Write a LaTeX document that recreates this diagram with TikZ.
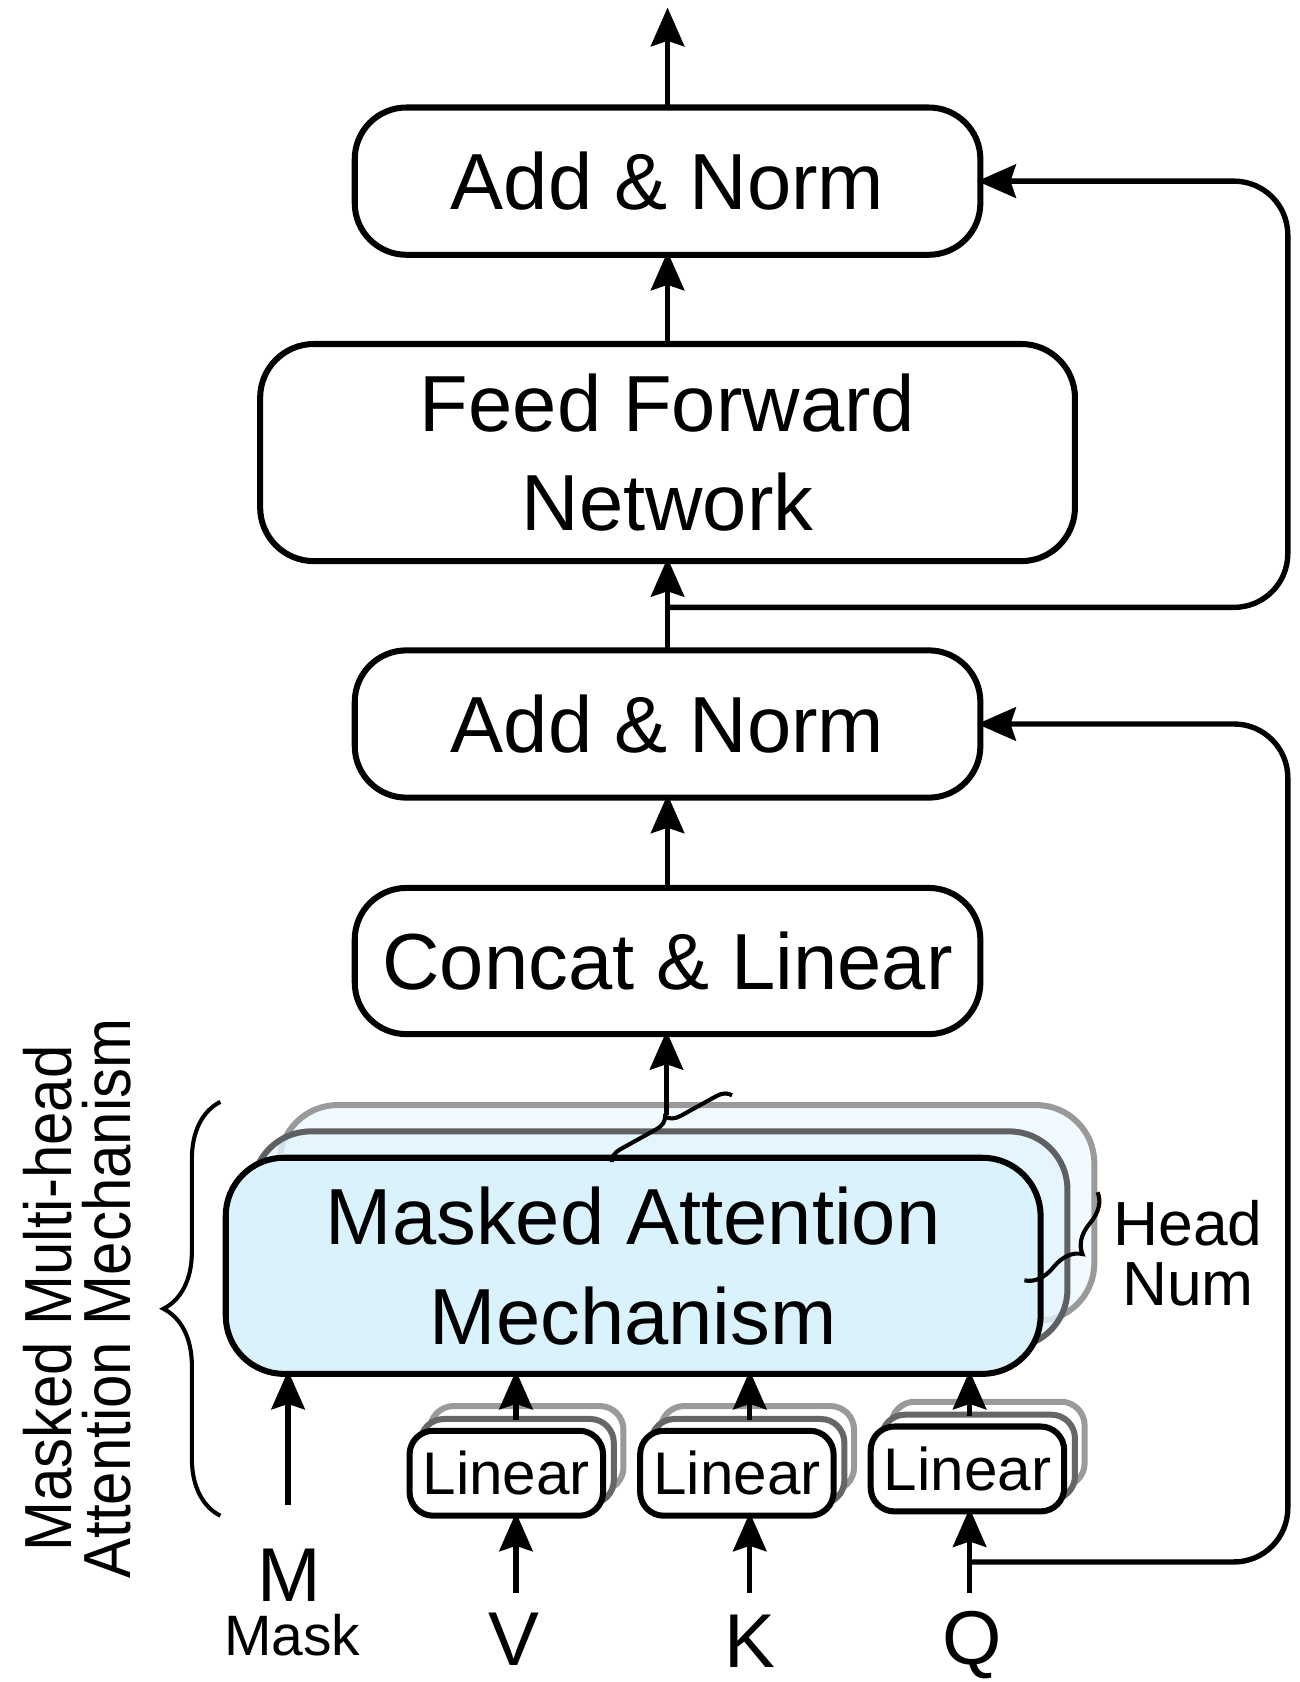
\documentclass[tikz,border=0pt]{standalone}
\usepackage{fontspec}
\setmainfont{Liberation Sans}
\newfontfamily\condfont[FakeStretch=0.9]{Liberation Sans}
\usetikzlibrary{arrows.meta,decorations.pathreplacing,calc}
\definecolor{attfront}{HTML}{DAF2FC}
\definecolor{attmid}{HTML}{E2F5FD}
\definecolor{attback}{HTML}{EEF9FE}
\definecolor{midgray}{HTML}{5E6063}
\definecolor{backgray}{HTML}{9A9A9A}
\definecolor{lmidgray}{HTML}{666666}
\begin{document}
\begin{tikzpicture}[x=0.5pt,y=-0.5pt,
  bigtext/.style={font=\fontsize{37pt}{46.5pt}\selectfont},
  box/.style={draw, line width=2.8pt, rounded corners=24pt, align=center, inner sep=0pt, outer sep=0pt, fill=white},
  attbox/.style={line width=2.8pt, rounded corners=27pt, align=center, inner sep=0pt, outer sep=0pt, minimum width=379pt, minimum height=100.5pt},
  linbox/.style={line width=2.8pt, rounded corners=11pt, inner sep=0pt, outer sep=0pt, fill=white, minimum width=90pt, minimum height=39.5pt, font=\fontsize{28pt}{32pt}\selectfont},
  arr/.style={line width=2.5pt, -{Stealth[length=18pt,width=15.5pt,inset=2.5pt]}, shorten >=-1.5pt},
  lab/.style={font=\fontsize{35.5pt}{40pt}\selectfont, inner sep=0pt, anchor=base},
  bracestyle/.style={line width=1.9pt, decorate},
]
\useasboundingbox (0,0) rectangle (1209.3,1564.7);

% main boxes
\node[box,bigtext,minimum width=291pt,minimum height=68.5pt] (an1) at (621,168.5) {Add \& Norm};
\node[box,bigtext,minimum width=379pt,minimum height=101pt,rounded corners=25pt] (ffn) at (621,421) {Feed Forward\\Network};
\node[box,bigtext,minimum width=291pt,minimum height=68.5pt] (an2) at (621,673.5) {Add \& Norm};
\node[box,bigtext,minimum width=291pt,minimum height=68pt] (cat) at (621,894) {Concat \& Linear};

% attention stack
\node[attbox, draw=backgray, fill=attback, fill opacity=0.8] (attb) at (639,1128.5) {};
\node[attbox, draw=midgray, fill=attmid, fill opacity=0.8] (attm) at (614,1153) {};
\node[attbox, draw=black, fill=attfront, bigtext] (att) at (589,1177.5) {Masked Attention\\Mechanism};

% linear stacks
\node[linbox, draw=backgray] (vlinb) at (490,1347.5) {};
\node[linbox, draw=lmidgray] (vlinm) at (481,1359.5) {};
\node[linbox, draw=black] (vlin) at (471,1370.5) {Linear};
\node[linbox, draw=backgray] (klinb) at (704.5,1347.5) {};
\node[linbox, draw=lmidgray] (klinm) at (695.5,1359.5) {};
\node[linbox, draw=black] (klin) at (685.5,1370.5) {Linear};
\node[linbox, draw=backgray] (qlinb) at (919,1343.5) {};
\node[linbox, draw=lmidgray] (qlinm) at (910,1355.5) {};
\node[linbox, draw=black] (qlin) at (900,1366.5) {Linear};

% vertical arrows of the main column
\coordinate (topout) at (621,10);
\draw[arr] (an1.north) -- (topout);
\draw[arr] (ffn.north) -- (an1.south);
\draw[arr] (an2.north) -- (ffn.south);
\draw[arr] (cat.north) -- (an2.south);
\coordinate (attout) at (620,1037);
\draw[arr] (attout) -- (attout |- cat.south);

% residual connections
\coordinate (rx) at (1198,0);
\coordinate (r1) at (621,565);
\draw[arr, rounded corners=25pt] (r1) -- (r1 -| rx) |- (an1.east);
\coordinate (qr) at (902,1453);
\draw[arr, rounded corners=25pt] (qr) -- (qr -| rx) |- (an2.east);

% inputs
\coordinate (min) at (268,1400);
\draw[arr] (min) -- (min |- att.south);
\coordinate (vin) at (480,1482);
\draw[arr] (vin) -- (vin |- vlin.south);
\coordinate (vup) at (480,1321);
\draw[arr] (vup) -- (vup |- att.south);
\coordinate (kin) at (697.5,1482);
\draw[arr] (kin) -- (kin |- klin.south);
\coordinate (kup) at (697.5,1321);
\draw[arr] (kup) -- (kup |- att.south);
\coordinate (qin) at (902,1482);
\draw[arr] (qin) -- (qin |- qlin.south);
\coordinate (qup) at (902,1317);
\draw[arr] (qup) -- (qup |- att.south);

% labels
\node[lab] (mlab) at (269,1490) {M};
\node[font=\fontsize{26.5pt}{30pt}\selectfont, inner sep=0pt, anchor=base] (masklab) at (272,1540) {Mask};
\node[lab] (vlab) at (478,1549) {V};
\node[lab] (klab) at (698,1551) {K};
\node[lab] (qlab) at (904,1548) {Q};
\node[font=\fontsize{29pt}{28pt}\selectfont, align=center, inner sep=0pt] (headnum) at (1105,1166) {Head\\Num};
\node[font=\condfont\fontsize{31pt}{27.5pt}\selectfont, align=center, rotate=90, inner sep=0pt] (mmh) at (72,1208) {Masked Multi-head\\Attention Mechanism};

% braces
\draw[bracestyle, decoration={brace, amplitude=26.5pt}] (205,1410) -- (205,1025);
\draw[bracestyle, decoration={brace, amplitude=6.5pt}] (569,1081) -- (681,1019);
\draw[bracestyle, decoration={brace, amplitude=13pt, mirror}] (953,1191) -- (1021,1109);
\end{tikzpicture}
\end{document}
